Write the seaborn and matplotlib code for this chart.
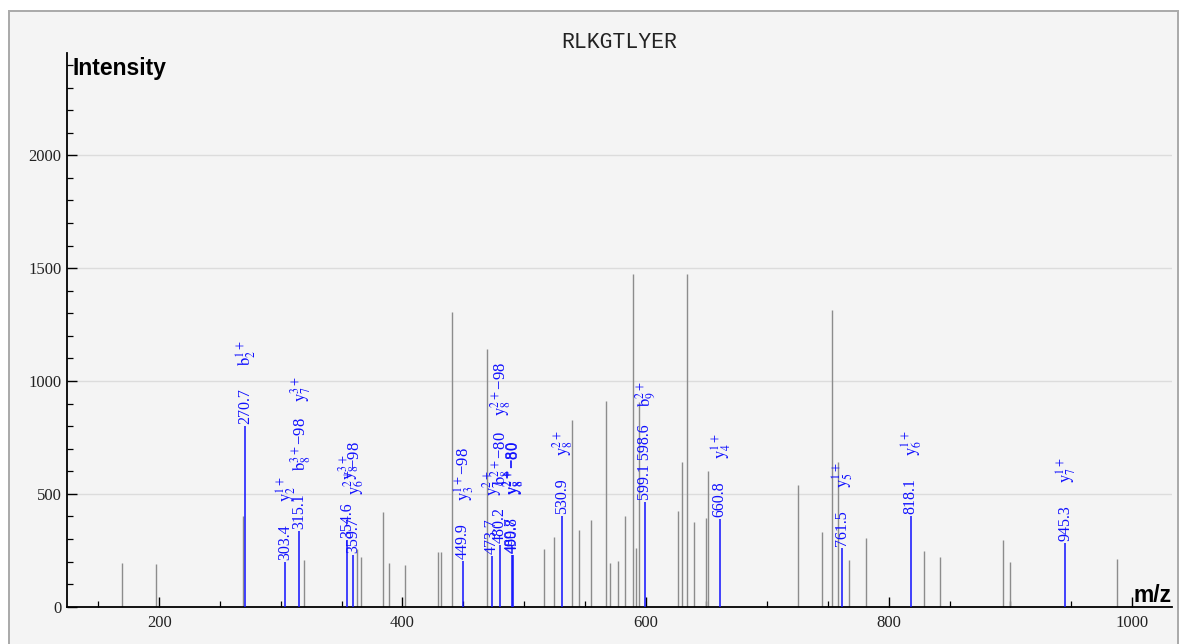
import matplotlib
matplotlib.use("Agg")
import numpy as np
import pandas as pd
import seaborn as sns
from matplotlib import pyplot as plt
from matplotlib.patches import Rectangle
from matplotlib.ticker import MultipleLocator

title = "RLKGTLYER"

# unmatched peaks (grey)
peak_mz = [169.6, 196.9, 268.8, 319.0, 362.7, 366.0, 383.9, 389.0, 402.3,
           429.6, 431.8, 441.1, 469.6, 516.7, 524.9, 539.2, 545.5, 554.9,
           567.2, 570.5, 577.1, 583.1, 589.3, 591.8, 594.8, 626.9, 630.2,
           634.0, 639.8, 649.9, 651.6, 725.3, 745.0, 753.2, 758.2, 767.2,
           781.2, 829.1, 842.0, 894.0, 900.1, 987.5]
peak_int = [192, 189, 404, 207, 257, 219, 418, 192, 186,
            241, 241, 1304, 1143, 256, 308, 825, 340, 386,
            911, 194, 201, 404, 1473, 262, 905, 426, 643,
            1473, 377, 393, 599, 541, 330, 1313, 643, 207,
            305, 248, 222, 297, 200, 213]

# matched fragments (blue)
frag_mz = [270.7, 303.4, 315.1, 354.6, 359.7, 449.9, 473.7, 480.2, 489.7,
           490.8, 530.9, 599.1, 660.8, 761.5, 818.1, 945.3]
frag_int = [799, 200, 337, 297, 231, 204, 226, 275, 231,
            231, 401, 463, 389, 262, 404, 284]
frag_num = ["270.7", "303.4", "315.1", "354.6", "359.7", "449.9", "473.7",
            "480.2", "489.7", "490.8", "530.9", "599.1 598.6", "660.8",
            "761.5", "818.1", "945.3"]
frag_ions = [
    [r"$\mathrm{b}_{2}^{1+}$"],
    [r"$\mathrm{y}_{2}^{1+}$"],
    [r"$\mathrm{b}_{8}^{3+}$−98", r"$\mathrm{y}_{7}^{3+}$"],
    [r"$\mathrm{y}_{8}^{3+}$"],
    [r"$\mathrm{y}_{6}^{2+}$−98"],
    [r"$\mathrm{y}_{3}^{1+}$−98"],
    [r"$\mathrm{y}_{7}^{2+}$"],
    [r"$\mathrm{b}_{8}^{2+}$−80", r"$\mathrm{y}_{8}^{2+}$−98"],
    [r"$\mathrm{y}_{8}^{2+}$−80"],
    [r"$\mathrm{y}_{8}^{2+}$−80"],
    [r"$\mathrm{y}_{8}^{2+}$"],
    [r"$\mathrm{b}_{9}^{2+}$"],
    [r"$\mathrm{y}_{4}^{1+}$"],
    [r"$\mathrm{y}_{5}^{1+}$"],
    [r"$\mathrm{y}_{6}^{1+}$"],
    [r"$\mathrm{y}_{7}^{1+}$"],
]

sns.set_theme(style="ticks")
plt.rcParams["font.family"] = ["Liberation Serif", "DejaVu Serif"]
plt.rcParams["mathtext.fontset"] = "stix"

W, H = 1180, 644
PX = 0.72  # points per pixel at 100 dpi
BLUE = "#1010ff"
GREY = "#8c8c8c"

fig = plt.figure(figsize=(W / 100, H / 100), dpi=100)
fig.patch.set_facecolor("white")
fig.patches.append(Rectangle((9 / W, -0.05), (1178 - 9) / W, 1.05 - 11 / H,
                             transform=fig.transFigure, facecolor="#f4f4f4",
                             edgecolor="#ababab", lw=2 * PX, zorder=-5))

ax = fig.add_axes([67 / W, 1 - 606.7 / H, (1172.3 - 67) / W, (606.7 - 53) / H])
ax.set_facecolor("none")

peaks = pd.DataFrame({"mz": peak_mz, "intensity": peak_int})
frags = pd.DataFrame({"mz": frag_mz, "intensity": frag_int})
ax.vlines(peaks["mz"], 0, peaks["intensity"], color=GREY, lw=1.0, zorder=2)
ax.vlines(frags["mz"], 0, frags["intensity"], color=BLUE, lw=1.1, zorder=3)

ax.set_xlim(124.1, 1033.2)
ax.set_ylim(0, 2453)
ax.xaxis.set_major_locator(MultipleLocator(200))
ax.xaxis.set_minor_locator(MultipleLocator(50))
ax.yaxis.set_major_locator(MultipleLocator(500))
ax.yaxis.set_minor_locator(MultipleLocator(100))
ax.tick_params(which="major", direction="in", length=7.5, width=1.0,
               color="black", labelsize=12, labelcolor="#222222")
ax.tick_params(which="minor", direction="in", length=4.5, width=0.9, color="black")
ax.tick_params(axis="x", pad=6)
ax.tick_params(axis="y", pad=4)
ax.grid(axis="y", which="major", color="#dcdcdc", lw=1.0, zorder=0)
ax.set_axisbelow(True)
sns.despine(ax=ax)
for side in ("left", "bottom"):
    ax.spines[side].set_linewidth(1.3)
    ax.spines[side].set_color("black")

renderer = fig.canvas.get_renderer()
for mz, inten, num, ions in zip(frag_mz, frag_int, frag_num, frag_ions):
    t = ax.annotate(num, (mz, inten), xytext=(0, 2 * PX), textcoords="offset points",
                    rotation=90, ha="center", va="bottom", color=BLUE,
                    fontsize=11.5, zorder=4)
    h = t.get_window_extent(renderer).height
    off = max(60, h + 2 + 18)
    ax.annotate("    ".join(ions), (mz, inten), xytext=(1 * PX, off * PX),
                textcoords="offset points", rotation=90, ha="center",
                va="bottom", color=BLUE, fontsize=12, zorder=4)

fig.text(619 / W, 1 - 42 / H, title, family="Liberation Mono", fontsize=15.5,
         color="#222222", ha="center", va="center")
fig.text(73 / W, 1 - 68 / H, "Intensity", family="Liberation Sans",
         fontweight="bold", fontsize=16.5, color="black", ha="left", va="center")
fig.text(1172 / W, 1 - 601.5 / H, "m/z", family="Liberation Sans",
         fontweight="bold", fontsize=16.5, color="black", ha="right", va="baseline")

fig.savefig("out.png", dpi=100)
